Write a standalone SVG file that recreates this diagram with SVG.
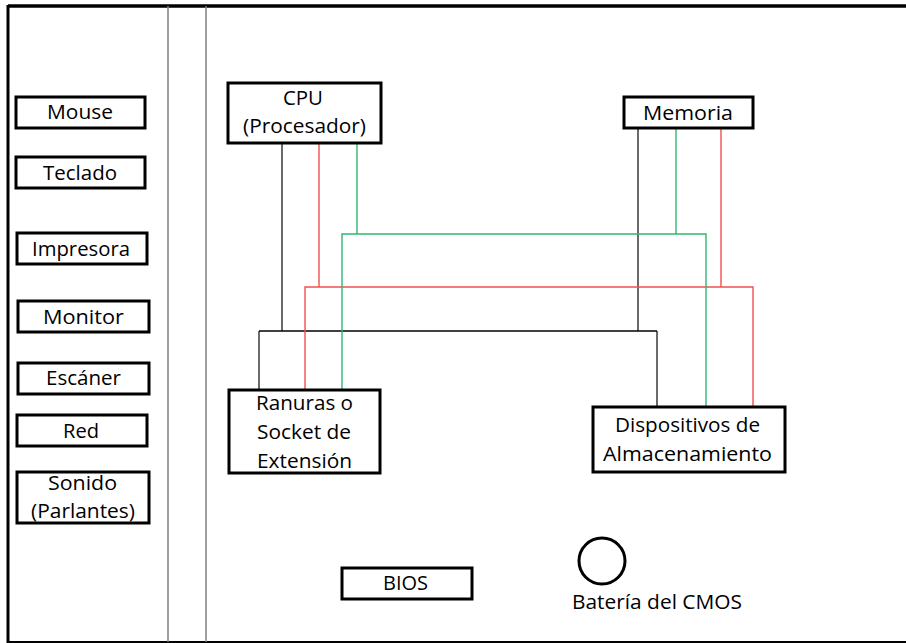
<svg xmlns="http://www.w3.org/2000/svg" width="906" height="643" viewBox="0 0 906 643">
  <style>
    .box { fill: #ffffff; stroke: #000000; stroke-width: 3; }
    .lbl { font-family: "Open Sans", "Liberation Sans", sans-serif; font-size: 19.5px; fill: #000000; text-anchor: middle; }
    .divider { stroke: #7f7f7f; stroke-width: 1.5; fill: none; }
    .wire { fill: none; stroke-width: 1.4; }
    .blk { stroke: #000000; }
    .blkv { stroke: #5a5a5a; stroke-width: 1.8; }
    .red { stroke: #f05050; }
    .grn { stroke: #30b870; }
  </style>

  <rect width="906" height="643" fill="#ffffff"/>

  <!-- board outline: left, top and bottom edges only -->
  <g id="frame">
    <path d="M8,6 H906" stroke="#000" stroke-width="3.5" fill="none"/>
    <path d="M8,5 V643" stroke="#000" stroke-width="3" fill="none"/>
    <path d="M8,642 H906" stroke="#000" stroke-width="2" fill="none"/>
    <path class="divider" d="M168,6 V642"/>
    <path class="divider" d="M206,6 V642"/>
  </g>

  <!-- buses between CPU, memory, slots and storage -->
  <g id="connectors">
    <path class="wire blkv" d="M282,143 V331"/>
    <path class="wire blkv" d="M638,128 V331"/>
    <path class="wire blkv" d="M259,390 V331"/>
    <path class="wire blkv" d="M657,331 V407"/>
    <path class="wire blk" d="M259,331 H657"/>
    <path class="wire red" d="M319,143 V287"/>
    <path class="wire red" d="M721,128 V287"/>
    <path class="wire red" d="M305,390 V287 H753 V407"/>
    <path class="wire grn" d="M357,143 V234"/>
    <path class="wire grn" d="M676,128 V234"/>
    <path class="wire grn" d="M342,390 V234 H706 V407"/>
  </g>

  <!-- peripherals column -->
  <g id="mouse">
    <rect class="box" x="16" y="97" width="129" height="31"/>
    <text class="lbl" x="80" y="119" textLength="66" lengthAdjust="spacingAndGlyphs">Mouse</text>
  </g>
  <g id="teclado">
    <rect class="box" x="16" y="157" width="129" height="31"/>
    <text class="lbl" x="80" y="180" textLength="74" lengthAdjust="spacingAndGlyphs">Teclado</text>
  </g>
  <g id="impresora">
    <rect class="box" x="17" y="233" width="130" height="31"/>
    <text class="lbl" x="81" y="256" textLength="98" lengthAdjust="spacingAndGlyphs">Impresora</text>
  </g>
  <g id="monitor">
    <rect class="box" x="18" y="301" width="131" height="31"/>
    <text class="lbl" x="83.5" y="324" textLength="81" lengthAdjust="spacingAndGlyphs">Monitor</text>
  </g>
  <g id="escaner">
    <rect class="box" x="18" y="363" width="131" height="31"/>
    <text class="lbl" x="83.5" y="385" textLength="75" lengthAdjust="spacingAndGlyphs">Escáner</text>
  </g>
  <g id="red">
    <rect class="box" x="17" y="415" width="130" height="31"/>
    <text class="lbl" x="81" y="438" textLength="36" lengthAdjust="spacingAndGlyphs">Red</text>
  </g>
  <g id="sonido">
    <rect class="box" x="17" y="472" width="132" height="51"/>
    <text class="lbl" x="82.5" y="490" textLength="69" lengthAdjust="spacingAndGlyphs">Sonido</text>
    <text class="lbl" x="83" y="518" textLength="104" lengthAdjust="spacingAndGlyphs">(Parlantes)</text>
  </g>

  <!-- board components -->
  <g id="cpu">
    <rect class="box" x="228" y="83" width="153" height="60"/>
    <text class="lbl" x="303" y="105" textLength="40" lengthAdjust="spacingAndGlyphs">CPU</text>
    <text class="lbl" x="304.5" y="133" textLength="123" lengthAdjust="spacingAndGlyphs">(Procesador)</text>
  </g>
  <g id="memoria">
    <rect class="box" x="624" y="97" width="129" height="31"/>
    <text class="lbl" x="688" y="120" textLength="90" lengthAdjust="spacingAndGlyphs">Memoria</text>
  </g>
  <g id="ranuras">
    <rect class="box" x="229" y="390" width="151" height="83"/>
    <text class="lbl" x="304.5" y="410" textLength="97" lengthAdjust="spacingAndGlyphs">Ranuras o</text>
    <text class="lbl" x="304" y="439" textLength="94" lengthAdjust="spacingAndGlyphs">Socket de</text>
    <text class="lbl" x="304.5" y="468" textLength="95" lengthAdjust="spacingAndGlyphs">Extensión</text>
  </g>
  <g id="almacenamiento">
    <rect class="box" x="593" y="407" width="192" height="65"/>
    <text class="lbl" x="687.5" y="432" textLength="145" lengthAdjust="spacingAndGlyphs">Dispositivos de</text>
    <text class="lbl" x="687.5" y="461" textLength="169" lengthAdjust="spacingAndGlyphs">Almacenamiento</text>
  </g>
  <g id="bios">
    <rect class="box" x="342" y="568" width="130" height="31"/>
    <text class="lbl" x="405.5" y="590" textLength="45" lengthAdjust="spacingAndGlyphs">BIOS</text>
  </g>
  <g id="bateria">
    <circle cx="602" cy="561" r="23" fill="#ffffff" stroke="#000" stroke-width="3"/>
    <text class="lbl" x="657" y="609" textLength="170" lengthAdjust="spacingAndGlyphs">Batería del CMOS</text>
  </g>
</svg>
